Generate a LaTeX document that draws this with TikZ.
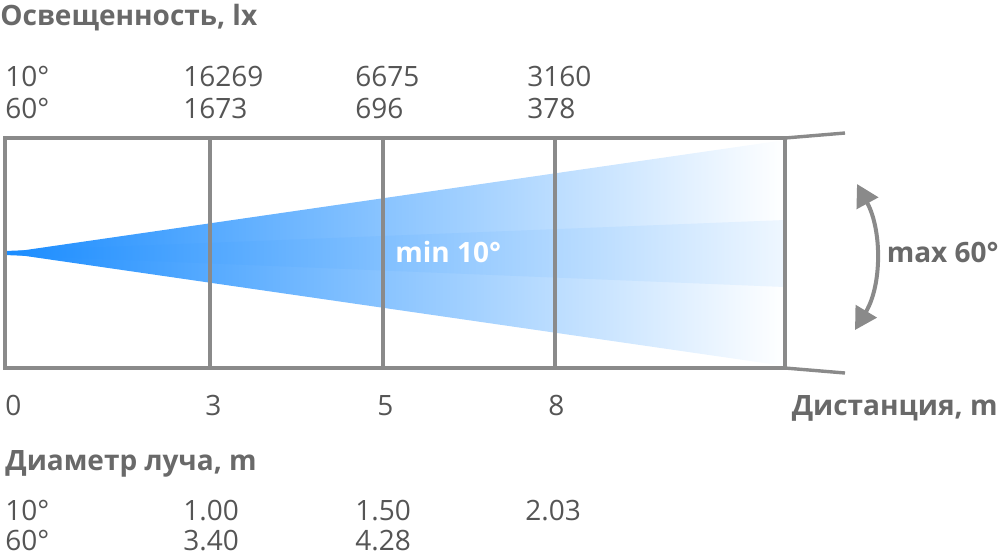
\documentclass[tikz,border=0pt]{standalone}
\usepackage{fontspec}
\setmainfont{Open Sans}
\usetikzlibrary{arrows.meta}
\definecolor{beamblue}{HTML}{1A8CFF}
\definecolor{gridgray}{HTML}{8A8A8A}
\definecolor{labelgray}{HTML}{555555}
\definecolor{titlegray}{HTML}{696969}

\begin{document}
\begin{tikzpicture}[x=0.5pt,y=-0.5pt,font=\fontsize{14}{16}\selectfont,
  grid/.style={gridgray,line width=1.7pt},
  val/.style={anchor=base west,inner sep=0pt,text=labelgray},
  title/.style={anchor=base west,inner sep=0pt,text=titlegray,font=\fontsize{14}{16}\selectfont\bfseries}]
  \useasboundingbox (0,0) rectangle (1000,554);
  % beam: wide and narrow cone
  \shade[left color=beamblue,middle color=beamblue!62,right color=white] (5,253) -- (785,140) -- (785,366) -- cycle;
  \shade[left color=beamblue,middle color=beamblue!84,right color=beamblue!7] (5,251) -- (785,220) -- (785,287) -- (5,255) -- cycle;
  \node[anchor=base west,inner sep=0pt,text=white,font=\fontsize{14}{16}\selectfont\bfseries] (minangle) at (395,262) {min 10°};
  % grid
  \draw[grid] (5,138) rectangle (785,368);
  \draw[grid] (210,138) -- (210,368);
  \draw[grid] (383,138) -- (383,368);
  \draw[grid] (555,138) -- (555,368);
  \draw[grid] (785,138) -- (845,133);
  \draw[grid] (785,368) -- (845,373);
  % max angle arrow
  \coordinate (arctop) at (857,184);
  \coordinate (arcbot) at (855,330);
  \draw[grid,line width=2pt,{Triangle[length=11pt,width=12pt]}-{Triangle[length=11pt,width=12pt]}]
    (arctop) .. controls (882,230) and (882,285) .. (arcbot);
  \node[title,anchor=base east] (maxangle) at (999,262) {max 60°};
  % illuminance
  \node[title] (illumtitle) at (0,25) {Освещенность, lx};
  \node[val] (ilA) at (5,86) {10°};
  \node[val] (ilB) at (5,118) {60°};
  \node[val] (ilA3) at (183,86) {16269};
  \node[val] (ilB3) at (183,118) {1673};
  \node[val] (ilA5) at (355,86) {6675};
  \node[val] (ilB5) at (355,118) {696};
  \node[val] (ilA8) at (527,86) {3160};
  \node[val] (ilB8) at (527,118) {378};
  % distance axis
  \node[val] (d0) at (5,415) {0};
  \node[val] (d3) at (205,415) {3};
  \node[val] (d5) at (377,415) {5};
  \node[val] (d8) at (548,415) {8};
  \node[title,anchor=base east] (disttitle) at (998,415) {Дистанция, m};
  % beam diameter
  \node[title] (diamtitle) at (5,470) {Диаметр луча, m};
  \node[val] (dmA) at (5,520) {10°};
  \node[val] (dmB) at (5,550) {60°};
  \node[val] (dmA3) at (183,520) {1.00};
  \node[val] (dmB3) at (183,550) {3.40};
  \node[val] (dmA5) at (355,520) {1.50};
  \node[val] (dmB5) at (355,550) {4.28};
  \node[val] (dmA8) at (525,520) {2.03};
\end{tikzpicture}
\end{document}
